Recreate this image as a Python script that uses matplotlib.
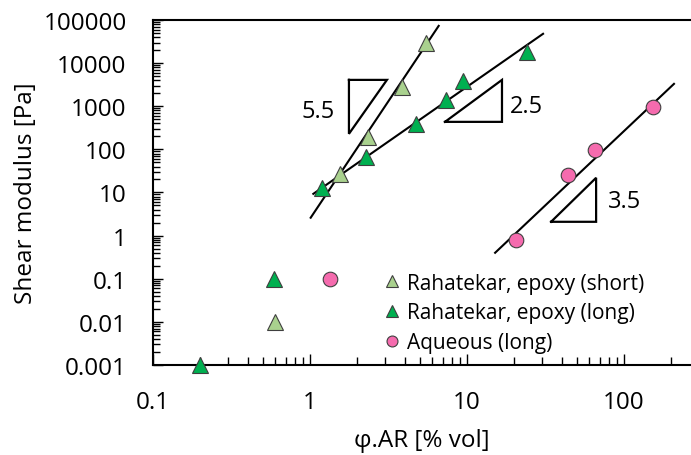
import matplotlib
matplotlib.use("Agg")
import matplotlib.pyplot as plt
from matplotlib.ticker import LogLocator, FixedLocator, FixedFormatter, NullFormatter

plt.rcParams["font.family"] = ["Open Sans", "DejaVu Sans"]

# data
short_x = [0.6, 1.55, 2.35, 3.85, 5.5]
short_y = [0.01, 27, 195, 2800, 29500]
long_x = [0.2, 0.59, 1.2, 2.27, 4.7, 7.3, 9.4, 24]
long_y = [0.001, 0.1, 13, 68, 390, 1400, 3900, 18500]
aq_x = [1.34, 20.5, 44, 65, 153]
aq_y = [0.1, 0.8, 25.5, 97, 975]

# power-law guide lines (end points)
short_fit_x = [1.01, 6.6]
short_fit_y = [2.6, 73000]
long_fit_x = [1.05, 30.5]
long_fit_y = [9.3, 47800]
aq_fit_x = [15.1, 208]
aq_fit_y = [0.4, 3300]

# slope triangles (closed outlines)
tri_55_x = [1.77, 3.09, 1.77, 1.77]
tri_55_y = [4080, 4080, 229, 4080]
tri_25_x = [7.24, 16.7, 16.7, 7.24]
tri_25_y = [434, 4080, 434, 434]
tri_35_x = [34.3, 66.4, 66.4, 34.3]
tri_35_y = [2.09, 21.9, 2.09, 2.09]

y_ticks = [0.001, 0.01, 0.1, 1, 10, 100, 1000, 10000, 100000]
y_labels = ["0.001", "0.01", "0.1", "1", "10", "100", "1000", "10000", "100000"]
x_ticks = [0.1, 1, 10, 100]
x_labels = ["0.1", "1", "10", "100"]

fig = plt.figure(figsize=(6.91, 4.56), dpi=100)
ax = fig.add_axes([0.2214, 0.1974, 0.7786, 0.7566])
ax.set_xscale("log")
ax.set_yscale("log")
ax.set_xlim(0.1, 267)
ax.set_ylim(0.001, 100000)

for xs, ys in [(short_fit_x, short_fit_y), (long_fit_x, long_fit_y), (aq_fit_x, aq_fit_y)]:
    ax.plot(xs, ys, color="black", lw=1.5, zorder=2)

for xs, ys in [(tri_55_x, tri_55_y), (tri_25_x, tri_25_y), (tri_35_x, tri_35_y)]:
    ax.plot(xs, ys, color="black", lw=1.6, solid_joinstyle="miter", zorder=2)

ax.text(1.44, 780, "5.5", fontsize=17, ha="right", va="center")
ax.text(18.8, 1000, "2.5", fontsize=17, ha="left", va="center")
ax.text(79, 6.4, "3.5", fontsize=17, ha="left", va="center")

ax.plot(short_x, short_y, ls="none", marker="^", ms=12, mfc="#A9D18E", mec="#3f3f3f",
        mew=0.8, label="Rahatekar, epoxy (short)", clip_on=False, zorder=3)
ax.plot(long_x, long_y, ls="none", marker="^", ms=12, mfc="#00B050", mec="#3f3f3f",
        mew=0.8, label="Rahatekar, epoxy (long)", clip_on=False, zorder=3)
ax.plot(aq_x, aq_y, ls="none", marker="o", ms=10.5, mfc="#F56BAE", mec="#3f3f3f",
        mew=0.8, label="Aqueous (long)", clip_on=False, zorder=3)

ax.spines["right"].set_visible(False)
for s in ["left", "bottom", "top"]:
    ax.spines[s].set_linewidth(1.5)

ax.yaxis.set_major_locator(FixedLocator(y_ticks))
ax.yaxis.set_major_formatter(FixedFormatter(y_labels))
ax.yaxis.set_minor_locator(LogLocator(base=10, subs=range(2, 10), numticks=20))
ax.yaxis.set_minor_formatter(NullFormatter())
ax.xaxis.set_major_locator(FixedLocator(x_ticks))
ax.xaxis.set_major_formatter(FixedFormatter(x_labels))
ax.xaxis.set_minor_locator(LogLocator(base=10, subs=range(2, 10), numticks=20))
ax.xaxis.set_minor_formatter(NullFormatter())

ax.tick_params(which="both", direction="in", labelsize=17.5, width=1, top=False, right=False)
ax.tick_params(axis="y", which="major", length=7, pad=19)
ax.tick_params(axis="y", which="minor", length=5)
ax.tick_params(axis="x", which="major", length=8, pad=18)
ax.tick_params(axis="x", which="minor", length=6)

ax.set_xlabel("φ.AR [% vol]", fontsize=17.5, labelpad=10)
ax.set_ylabel("Shear modulus [Pa]", fontsize=17.5, labelpad=4)

ax.legend(loc="lower left", bbox_to_anchor=(0.41, 0.01), frameon=False, fontsize=15,
          handlelength=1.0, handletextpad=0.2, labelspacing=0.42, borderaxespad=0,
          markerscale=0.75)

fig.savefig("out.png", dpi=100)
